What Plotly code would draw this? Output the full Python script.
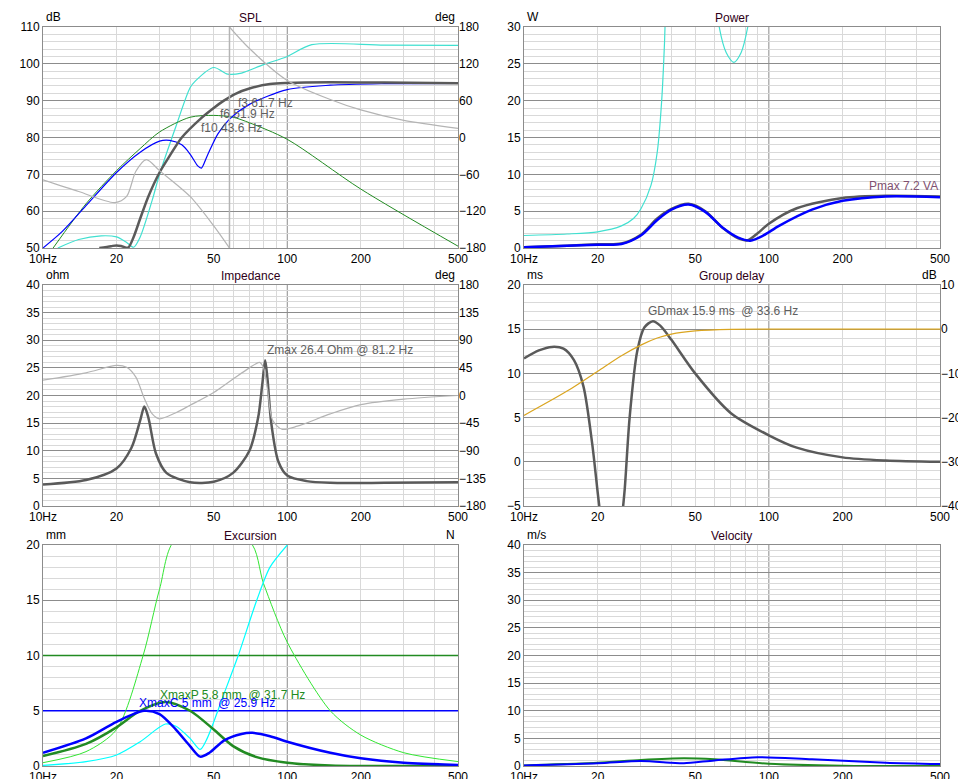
import math
import plotly.graph_objects as go

# ---------------- DATA ----------------
# SPL panel (dB, phase deg)
spl_total_f = [17, 19, 20, 21, 22.3, 23.5, 25, 27, 30, 33, 37, 44, 50, 55, 62, 70, 85, 100, 150, 250, 500]
spl_total_v = [50.0, 50.5, 50.7, 50.5, 50.1, 53, 58, 64, 70.5, 75, 80, 85, 88, 90, 92, 93.3, 94.5, 94.8, 95, 94.9, 94.7]
spl_blue_f = [10, 12, 15, 20, 25, 30, 33, 37, 40, 43, 44.5, 47, 52, 58, 70, 100, 150, 250, 500]
spl_blue_v = [50, 54.5, 61.5, 70.5, 76, 79, 79.2, 78, 75.5, 72.3, 71.7, 75, 81, 85, 89, 93, 94.2, 94.6, 94.7]
spl_port_f = [11, 15, 20, 25, 30, 40, 50, 60, 70, 100, 200, 500]
spl_port_v = [50, 62, 71, 77, 81.5, 85.5, 86, 85.5, 84, 79.5, 66, 50.5]
spl_max_f = [11.5, 14, 17.3, 20, 22, 23.5, 25, 28, 30, 35, 40, 42, 50, 57, 65, 80, 100, 126, 250, 500]
spl_max_v = [50, 52.3, 53.3, 53, 51.5, 50.2, 53, 63, 70, 83, 93.5, 95.3, 99, 97.2, 97.5, 99.8, 102, 105.2, 105.1, 105]
phase_a_f = [10, 14, 19.7, 22, 24, 26.5, 30, 40, 50, 58]
phase_a_v = [-69, -88, -106, -96, -55, -36, -54, -96, -144, -180]
phase_jump_f = [58, 58]
phase_jump_v = [-180, 180]
phase_b_f = [58, 70, 100, 150, 200, 300, 500]
phase_b_v = [180, 145, 93, 62, 45, 28, 15]
spl_labels = ["f3 61.7 Hz", "f6 51.9 Hz", "f10 43.6 Hz"]
spl_label_f = [61.7, 51.9, 43.6]
spl_label_y = [89.5, 86.5, 82.5]

# Power panel (W)
pw_max_f = [10, 15, 20, 25, 28, 30, 33, 35, 36.5, 37.5, 38.5]
pw_max_v = [1.7, 1.9, 2.2, 3.0, 4.0, 5.3, 8.5, 13, 20, 28, 40]
pw_max2_f = [58, 62.7, 67, 72, 77, 82, 90]
pw_max2_v = [40, 30, 26.5, 25.2, 26.5, 30, 40]
pw_total_f = [10, 15, 20, 25, 30, 35, 40, 47, 55, 65, 75, 82, 90, 100, 130, 200, 300, 500]
pw_total_v = [0.1, 0.3, 0.5, 0.6, 1.8, 4.0, 5.3, 6.0, 5.0, 2.7, 1.3, 1.05, 2.0, 3.3, 5.4, 6.8, 7.1, 7.0]
pw_blue_f = [10, 15, 20, 25, 30, 35, 40, 47, 55, 65, 75, 84, 95, 110, 150, 200, 300, 500]
pw_blue_v = [0.1, 0.3, 0.45, 0.55, 1.7, 3.8, 5.2, 5.9, 4.9, 2.7, 1.4, 1.0, 1.7, 3.0, 5.2, 6.4, 7.0, 6.9]

# Impedance panel (ohm, deg)
imp_f = [10, 15, 20, 23, 25, 26, 27, 29, 32, 40, 50, 60, 70, 76, 79, 81.2, 83, 86, 92, 100, 120, 150, 250, 500]
imp_v = [3.9, 4.7, 6.8, 10.5, 15.5, 18, 16, 9.5, 6, 4.3, 4.4, 6, 10, 16, 22, 26.4, 23, 15, 8, 5.5, 4.5, 4.2, 4.2, 4.3]
imp_ph_f = [10, 15, 20, 22, 24, 26, 28, 30, 35, 40, 50, 60, 70, 77, 80, 83, 87, 95, 110, 150, 200, 300, 500]
imp_ph_v = [25, 37, 49, 46, 30, -5, -30, -38, -28, -16, 5, 27, 45, 54, 45, 10, -40, -55, -50, -30, -15, -6, 0]
imp_label = "Zmax 26.4 Ohm @ 81.2 Hz"

# Group delay panel (ms, dB)
gd_a_f = [10, 11.5, 13, 14.5, 16, 17.5, 19, 20, 20.5]
gd_a_v = [11.7, 12.6, 13.0, 12.8, 11.5, 8.5, 2.0, -3.5, -6]
gd_b_f = [25.2, 25.8, 27, 29, 31, 33.6, 36, 40, 50, 70, 100, 130, 200, 300, 500]
gd_b_v = [-6, -3, 5, 12.5, 15.2, 15.9, 15.4, 13.8, 10, 5.5, 3.0, 1.6, 0.5, 0.15, 0.0]
gd_mag_f = [10, 15, 20, 25, 30, 35, 40, 50, 70, 100, 500]
gd_mag_v = [-19.5, -14, -9.5, -6, -3.6, -2.0, -1.1, -0.4, -0.05, 0, 0]
gd_label = "GDmax 15.9 ms  @ 33.6 Hz"

# Excursion panel (mm)
ex_blue_f = [10, 15, 20, 25.9, 30, 35, 40, 44, 48, 55, 65, 72, 85, 100, 150, 200, 300, 500]
ex_blue_v = [1.2, 2.5, 4.0, 5.0, 4.7, 3.3, 1.8, 0.85, 1.2, 2.3, 2.9, 3.0, 2.7, 2.2, 1.2, 0.7, 0.3, 0.1]
ex_port_f = [10, 15, 20, 25, 31.7, 40, 50, 60, 75, 100, 150, 500]
ex_port_v = [0.9, 2.0, 3.5, 5.0, 5.8, 5.0, 3.3, 1.8, 0.8, 0.3, 0.05, 0.0]
ex_cyan_f = [10, 15, 20, 25, 31.7, 35, 40, 44, 47, 55, 63, 75, 85, 100]
ex_cyan_v = [0.05, 0.4, 1.0, 2.2, 3.8, 3.6, 2.5, 1.5, 2.5, 6.5, 10, 15, 18, 20]
ex_lgreen_f = [10, 15, 20, 25.7, 30, 35, 70, 80, 100, 150, 200, 300, 500]
ex_lgreen_v = [0.3, 1.3, 3.3, 10, 16, 20.5, 20.3, 16.5, 11.2, 5, 2.8, 1.2, 0.4]
ex_xmaxp = 10
ex_xmaxc = 5
ex_labels = ["XmaxP 5.8 mm  @ 31.7 Hz", "XmaxC 5 mm  @ 25.9 Hz"]

# Velocity panel (m/s)
vel_port_f = [10, 20, 30, 45, 60, 100, 200, 500]
vel_port_v = [0.1, 0.6, 1.1, 1.4, 1.2, 0.4, 0.05, 0.0]
vel_blue_f = [10, 20, 30, 40, 45, 60, 90, 150, 300, 500]
vel_blue_v = [0.1, 0.5, 0.9, 0.6, 0.5, 1.0, 1.6, 1.2, 0.6, 0.35]

x_ticks = [10, 20, 50, 100, 200, 500]
x_tick_text = ["10Hz", "20", "50", "100", "200", "500"]
x_minor = [20, 30, 40, 50, 60, 70, 80, 90, 200, 300, 400]

# ---------------- LAYOUT ----------------
W, H = 966, 779
FONT = "Liberation Sans, Arial, sans-serif"
MAJ = "#8c8c8c"
MIN = "#d9d9d9"

cols = [(35, 450), (516, 932)]
rows = [(19, 240), (277, 498), (537, 758)]

panels = [
    ("SPL", 0, 0, [50, 110], 10, 2, "dB", ([-180, 180], 60), "deg"),
    ("Power", 1, 0, [0, 30], 5, 1, "W", None, ""),
    ("Impedance", 0, 1, [0, 40], 5, 1, "ohm", ([-180, 180], 45), "deg"),
    ("Group delay", 1, 1, [-5, 20], 5, 1, "ms", ([-40, 10], 10), "dB"),
    ("Excursion", 0, 2, [0, 20], 5, 1, "mm", ([0, 10], 2.5), "N"),
    ("Velocity", 1, 2, [0, 40], 5, 1, "m/s", None, ""),
]

fig = go.Figure()
layout = dict(width=W, height=H, margin=dict(l=0, r=0, t=0, b=0, autoexpand=False),
              paper_bgcolor="white", plot_bgcolor="white", showlegend=False,
              font=dict(family=FONT, size=12, color="black"))
annotations = []
shapes = []
axmap = {}
n_right = 7
for i, (title, c, r, yr, ydt, ymn, uL, right, uR) in enumerate(panels):
    k = i + 1
    xd = [cols[c][0] / W, cols[c][1] / W]
    yd = [1 - rows[r][1] / H, 1 - rows[r][0] / H]
    xs = "" if k == 1 else str(k)
    layout["xaxis" + xs] = dict(domain=xd, type="log", range=[1, math.log10(500)], anchor="y" + xs,
                                tickvals=x_ticks, ticktext=x_tick_text, showgrid=False,
                                showline=True, linecolor=MAJ, mirror=True, ticks="", automargin=False,
                                minor=dict(tickvals=x_minor, showgrid=True, gridcolor=MIN, ticks=""),
                                zeroline=False, tickfont=dict(size=12))
    layout["yaxis" + xs] = dict(domain=yd, range=yr, dtick=ydt, anchor="x" + xs,
                                showgrid=True, gridcolor=MAJ, gridwidth=1, automargin=False,
                                minor=dict(dtick=ymn, showgrid=True, gridcolor=MIN),
                                showline=True, linecolor=MAJ, mirror=True, zeroline=False,
                                ticks="", tickfont=dict(size=12))
    axmap[k] = ("x" + xs, "y" + xs)
    shapes.append(dict(type="line", xref="x" + xs, yref="y" + xs + " domain",
                       x0=100, x1=100, y0=0, y1=1, line=dict(color=MAJ, width=1), layer="below"))
    if right:
        rs = str(n_right)
        layout["yaxis" + rs] = dict(range=right[0], dtick=right[1], overlaying="y" + xs,
                                    side="right", anchor="x" + xs, showgrid=False, automargin=False,
                                    zeroline=False, ticks="", tickfont=dict(size=12))
        axmap[str(k) + "r"] = ("x" + xs, "y" + rs)
        n_right += 1
    annotations.append(dict(text=title, xref="paper", yref="paper",
                            x=(xd[0] + xd[1]) / 2, y=yd[1], yanchor="bottom", xanchor="center",
                            showarrow=False, font=dict(size=12, color="#300018")))
    annotations.append(dict(text=uL, xref="paper", yref="paper", x=xd[0] + 1 / W, y=yd[1] + 1 / H,
                            xanchor="left", yanchor="bottom", showarrow=False, font=dict(size=12)))
    if uR:
        annotations.append(dict(text=uR, xref="paper", yref="paper", x=xd[1] - 1 / W, y=yd[1] + 1 / H,
                                xanchor="right", yanchor="bottom", showarrow=False, font=dict(size=12)))


def add(k, f, v, color, width, shape="spline"):
    xa, ya = axmap[k]
    fig.add_trace(go.Scatter(x=f, y=v, mode="lines", xaxis=xa, yaxis=ya, hoverinfo="skip",
                             line=dict(color=color, width=width, shape=shape, smoothing=0.8)))


GRAY = "#5a5a5a"
LG = "#b4b4b4"
# SPL
add("1r", phase_a_f, phase_a_v, LG, 1.2)
add("1r", phase_jump_f, phase_jump_v, LG, 1.5, "linear")
add("1r", phase_b_f, phase_b_v, LG, 1.2)
add(1, spl_max_f, spl_max_v, "#40e0d0", 1.2)
add(1, spl_port_f, spl_port_v, "#228b22", 1)
add(1, spl_blue_f, spl_blue_v, "#0000ff", 1.2)
add(1, spl_total_f, spl_total_v, GRAY, 2.5)
for t, f, y in zip(spl_labels, spl_label_f, spl_label_y):
    annotations.append(dict(text=t, x=math.log10(f), y=y, xref="x", yref="y", showarrow=False,
                            xanchor="left", font=dict(size=12, color="#606060")))
# Power
add(2, pw_max_f, pw_max_v, "#40e0d0", 1.2)
add(2, pw_max2_f, pw_max2_v, "#40e0d0", 1.2)
add(2, pw_total_f, pw_total_v, GRAY, 2.5)
add(2, pw_blue_f, pw_blue_v, "#0000ff", 2.5)
annotations.append(dict(text="Pmax 7.2 VA", x=math.log10(500), y=7.2, xref="x2", yref="y2", showarrow=False,
                        xanchor="right", yanchor="bottom", font=dict(size=12, color="#805070")))
# Impedance
add("3r", imp_ph_f, imp_ph_v, LG, 1.2)
add(3, imp_f, imp_v, GRAY, 2.5)
annotations.append(dict(text=imp_label, x=math.log10(81.2), y=26.6, xref="x3", yref="y3", showarrow=False,
                        xanchor="left", yanchor="bottom", font=dict(size=12, color="#606060")))
# Group delay
add("4r", gd_mag_f, gd_mag_v, "#daa520", 1.2)
add(4, gd_a_f, gd_a_v, GRAY, 2.5)
add(4, gd_b_f, gd_b_v, GRAY, 2.5)
annotations.append(dict(text=gd_label, x=math.log10(33.6) - 0.03, y=16.0, xref="x4", yref="y4", showarrow=False,
                        xanchor="left", yanchor="bottom", font=dict(size=12, color="#606060")))
# Excursion
add(5, [10, 500], [ex_xmaxp, ex_xmaxp], "#228b22", 1.5, "linear")
add(5, [10, 500], [ex_xmaxc, ex_xmaxc], "#0000ff", 1.5, "linear")
add(5, ex_lgreen_f, ex_lgreen_v, "#32e632", 1)
add(5, ex_cyan_f, ex_cyan_v, "#00ffff", 1.2)
add(5, ex_port_f, ex_port_v, "#228b22", 2.5)
add(5, ex_blue_f, ex_blue_v, "#0000ff", 2.5)
annotations.append(dict(text=ex_labels[0], x=math.log10(31.7) - 0.03, y=5.6, xref="x5", yref="y5", showarrow=False,
                        xanchor="left", yanchor="bottom", font=dict(size=12, color="#228b22")))
annotations.append(dict(text=ex_labels[1], x=math.log10(25.9) - 0.03, y=4.9, xref="x5", yref="y5", showarrow=False,
                        xanchor="left", yanchor="bottom", font=dict(size=12, color="#0000ff")))
# Velocity
add(6, vel_port_f, vel_port_v, "#228b22", 2)
add(6, vel_blue_f, vel_blue_v, "#0000ff", 2)

layout["annotations"] = annotations
layout["shapes"] = shapes
fig.update_layout(**layout)
fig.write_html("out.html")
